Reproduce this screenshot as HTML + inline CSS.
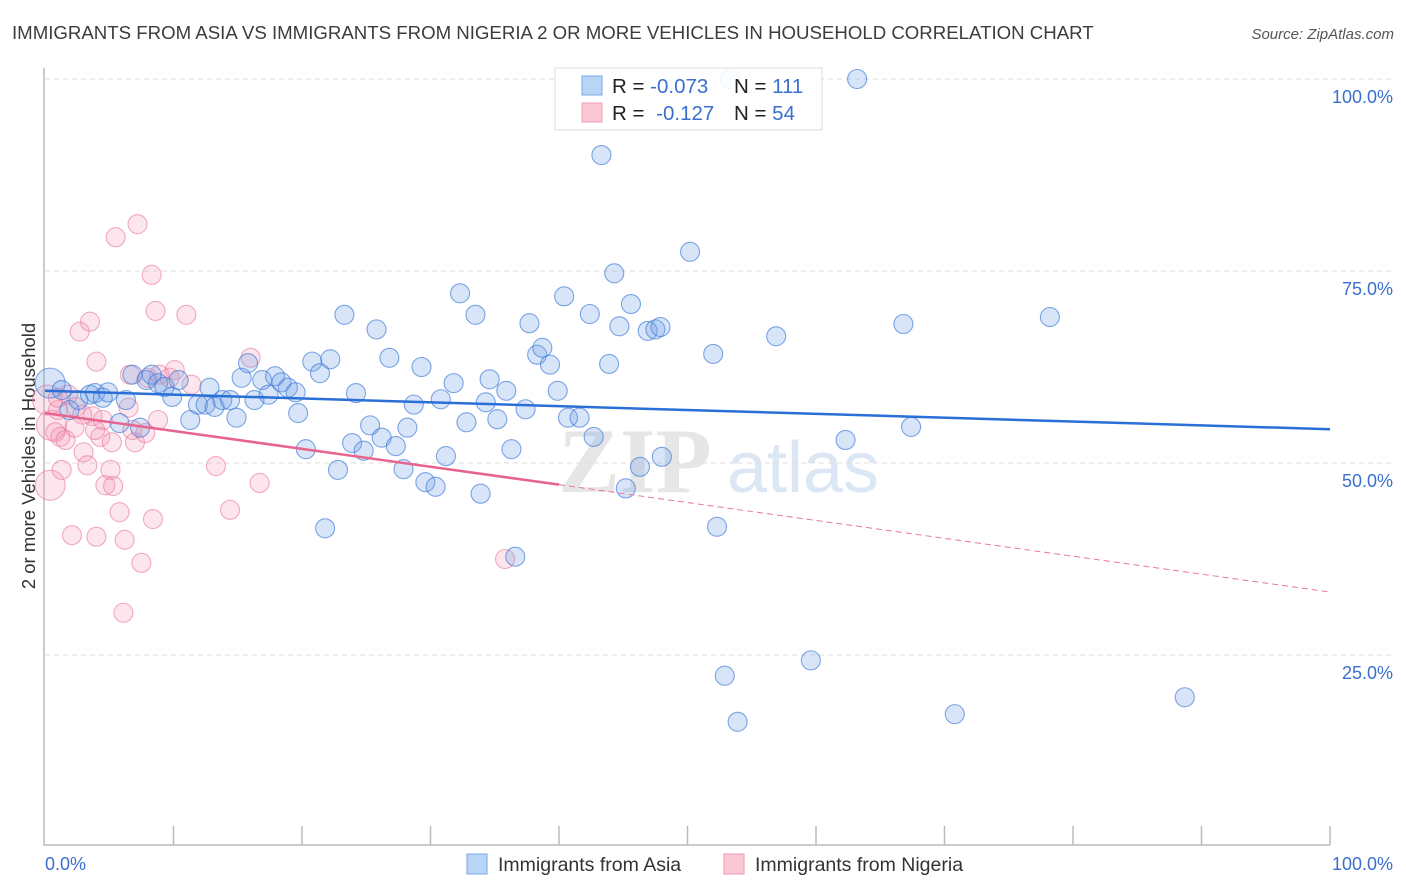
<!DOCTYPE html>
<html><head><meta charset="utf-8"><style>
body{margin:0;background:#fff;font-family:"Liberation Sans",sans-serif;}
#wrap{position:relative;width:1406px;height:892px;overflow:hidden;}
</style></head><body>
<div id="wrap">
<svg id="svg" width="1406" height="892" xmlns="http://www.w3.org/2000/svg">
<text x="12" y="39" font-size="18.65" fill="#3c3c3c">IMMIGRANTS FROM ASIA VS IMMIGRANTS FROM NIGERIA 2 OR MORE VEHICLES IN HOUSEHOLD CORRELATION CHART</text>
<text x="1394" y="39" font-size="15" fill="#555" font-style="italic" text-anchor="end">Source: ZipAtlas.com</text>
<text x="35" y="456" font-size="18.5" fill="#333" text-anchor="middle" transform="rotate(-90 35 456)">2 or more Vehicles in Household</text>
<g>
<text x="635" y="492" font-size="92" fill="#e6e6e6" font-family="Liberation Serif,serif" font-weight="bold" text-anchor="middle">ZIP</text>
<text x="803" y="492" font-size="72" fill="#dbe7f4" text-anchor="middle">atlas</text>
</g>
<g id="grid"></g>
<g id="axes"></g>
<g id="pts"></g>
<g id="trend"></g>
<g>
<rect x="555" y="68" width="267" height="62" fill="#fff" fill-opacity="0.9" stroke="#ddd"/>
<rect x="582" y="76" width="20" height="19" fill="#b8d4f7" stroke="#7aa7e6"/>
<rect x="582" y="103" width="20" height="19" fill="#fbc8d6" stroke="#ee9ab2"/>
<text x="612" y="93" font-size="20.5" fill="#222">R = <tspan fill="#3a6fd0">-0.073</tspan></text>
<text x="734" y="93" font-size="20.5" fill="#222">N = <tspan fill="#3a6fd0">111</tspan></text>
<text x="612" y="120" font-size="20.5" fill="#222">R = <tspan fill="#3a6fd0" dx="6">-0.127</tspan></text>
<text x="734" y="120" font-size="20.5" fill="#222">N = <tspan fill="#3a6fd0">54</tspan></text>
</g>
<g>
<rect x="467" y="854" width="20" height="20" fill="#b8d4f7" stroke="#7aa7e6"/>
<text x="498" y="871" font-size="19.5" fill="#333">Immigrants from Asia</text>
<rect x="724" y="854" width="20" height="20" fill="#fbc8d6" stroke="#ee9ab2"/>
<text x="755" y="871" font-size="19.5" fill="#333">Immigrants from Nigeria</text>
</g>
</svg>
</div>
<script>
const yTicks=[25,50,75,100];
const yTickLabels=["25.0%","50.0%","75.0%","100.0%"];
const xTickVals=[0,10,20,30,40,50,60,70,80,90,100];
const asiaX=[0.4,1.3,1.9,2.6,3.5,3.9,4.5,4.9,5.8,6.3,6.8,7.4,7.9,8.3,8.8,9.3,9.9,10.4,11.3,11.9,12.5,12.8,13.2,13.8,14.4,14.9,15.3,15.8,16.3,16.9,17.4,17.9,18.4,18.9,19.5,19.7,20.3,20.8,21.4,21.8,22.2,22.8,23.3,23.9,24.2,24.8,25.3,25.8,26.2,26.8,27.3,27.9,28.2,28.7,29.3,29.6,30.4,30.8,31.2,31.8,32.3,32.8,33.5,33.9,34.3,34.6,35.2,35.9,36.3,36.6,37.4,37.7,38.3,38.7,39.3,39.9,40.4,40.7,41.6,42.4,42.7,43.3,43.9,44.3,44.7,45.2,45.6,46.3,46.9,47.5,47.9,48.0,50.2,52.0,52.3,52.9,53.9,56.9,59.6,62.3,63.2,66.8,67.4,70.8,78.2,88.7,53.3];
const asiaY=[60.4,59.5,56.9,58.2,58.9,59.1,58.5,59.2,55.2,58.2,61.5,54.6,60.8,61.5,60.4,59.9,58.6,60.8,55.6,57.6,57.6,59.8,57.3,58.2,58.2,55.9,61.1,63.0,58.2,60.8,58.9,61.3,60.5,59.8,59.2,56.5,51.8,63.2,61.7,41.5,63.5,49.1,69.3,52.6,59.1,51.6,54.9,67.4,53.3,63.7,52.2,49.2,54.6,57.6,62.5,47.5,46.9,58.3,50.9,60.4,72.1,55.3,69.3,46.0,57.9,60.9,55.7,59.4,51.8,37.8,57.0,68.2,64.1,65.0,62.8,59.4,71.7,55.9,55.9,69.4,53.4,90.1,62.9,74.7,67.8,46.7,70.7,49.5,67.2,67.4,67.7,50.8,77.5,64.2,41.7,22.3,16.3,66.5,24.3,53.0,100,68.1,54.7,17.3,69.0,19.5,100];
const nigX=[0.4,0.5,0.8,1.0,1.2,1.3,2.1,2.4,2.7,3.0,3.3,3.5,3.7,4.0,4.0,4.3,4.5,4.7,5.1,5.3,5.5,5.8,6.1,6.2,6.6,6.8,7.0,7.2,7.5,7.8,8.3,8.4,8.6,8.8,10.1,11.0,11.4,13.3,14.4,16.0,16.7,35.8,0.2,1.8,2.9,5.2,6.5,8.0,8.9,9.7,1.6,2.3,1.0,3.9];
const nigY=[47.1,54.9,54.0,56.9,53.4,49.1,40.6,57.3,67.1,51.4,49.7,68.4,56.1,63.2,40.4,53.4,55.6,47.1,49.1,47.0,79.4,43.6,30.5,40.0,61.5,54.3,52.7,81.1,37.0,53.9,74.5,42.7,69.8,55.6,62.1,69.3,60.2,49.6,43.9,63.7,47.4,37.5,58.2,58.9,56.3,52.7,57.2,61.1,61.5,61.1,53.0,54.6,58.5,54.3];
const asiaTrend=[59.4,54.4];
const nigTrend=[56.5,33.2];
const nigSolidEnd=40;

const NS="http://www.w3.org/2000/svg";
const X0=45,X1=1330,Y0=847,Y100=79;
const sx=v=>X0+(X1-X0)*v/100;
const sy=v=>Y0-(Y0-Y100)*v/100;
function mk(tag,attrs,parent){const e=document.createElementNS(NS,tag);for(const k in attrs)e.setAttribute(k,attrs[k]);parent.appendChild(e);return e;}
const grid=document.getElementById('grid'),axes=document.getElementById('axes'),pts=document.getElementById('pts'),trend=document.getElementById('trend');
yTicks.forEach((t,i)=>{
 const l=mk('line',{x1:X0,x2:1393,y1:sy(t),y2:sy(t),stroke:'#ddd','stroke-dasharray':'5,4'},grid);
 
 
 const tx=mk('text',{x:1393,y:sy(t)+24,'font-size':18,fill:'#3a6fd0','text-anchor':'end'},axes);
 tx.textContent=yTickLabels[i];
 
 
});
const ax=mk('path',{d:`M${X0-1} 68 V845 H${X1}`,fill:'none',stroke:'#bbb','stroke-width':1.5},axes);


xTickVals.forEach(v=>{if(v===0)return;
 const t=mk('line',{x1:sx(v),x2:sx(v),y1:826,y2:845,stroke:'#bbb','stroke-width':1.5},axes);
 
 
});
const xl0=mk('text',{x:45,y:870,'font-size':18,fill:'#3a6fd0'},axes);xl0.textContent='0.0%';


const xl1=mk('text',{x:1393,y:870,'font-size':18,fill:'#3a6fd0','text-anchor':'end'},axes);xl1.textContent='100.0%';


function dots(xs,ys,fill,stroke,name){xs.forEach((x,i)=>{
 const r=(x<0.6)?15:9.5;
 const c=mk('circle',{cx:sx(x),cy:sy(ys[i]),r:r,fill:fill,stroke:stroke,'stroke-width':1.1},pts);
 
 
});}
dots(nigX,nigY,'rgba(244,150,178,0.25)','rgba(232,120,155,0.6)','nigeria-point');
dots(asiaX,asiaY,'rgba(110,160,230,0.27)','rgba(60,120,215,0.65)','asia-point');
const ta=mk('line',{x1:sx(0),y1:sy(asiaTrend[0]),x2:sx(100),y2:sy(asiaTrend[1]),stroke:'#2a6fd6','stroke-width':2.5},trend);


const ny=v=>nigTrend[0]+(nigTrend[1]-nigTrend[0])*v/100;
const tn=mk('line',{x1:sx(0),y1:sy(ny(0)),x2:sx(nigSolidEnd),y2:sy(ny(nigSolidEnd)),stroke:'#e8648f','stroke-width':2.5},trend);


const td=mk('line',{x1:sx(nigSolidEnd),y1:sy(ny(nigSolidEnd)),x2:sx(100),y2:sy(ny(100)),stroke:'#e8789c','stroke-width':1,'stroke-dasharray':'6,4'},trend);


</script>
</body></html>
